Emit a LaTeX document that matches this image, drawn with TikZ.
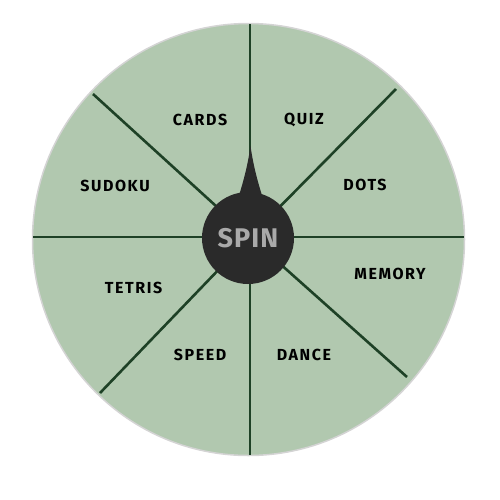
\documentclass[tikz,border=0pt]{standalone}
\usepackage{fontspec}
\newfontfamily\labfont[LetterSpace=10]{Fira Sans}
\newfontfamily\hubfont[LetterSpace=4]{Fira Sans}
\definecolor{wheelfill}{HTML}{B1C8AF}
\definecolor{wheeledge}{HTML}{D4D4D4}
\definecolor{spoke}{HTML}{1E4126}
\definecolor{hubdark}{HTML}{2A2A2A}
\definecolor{spingray}{HTML}{A9A9A9}
\tikzset{
  seglabel/.style={font=\labfont\bfseries\fontsize{16}{19}\selectfont, text=black, inner sep=0pt},
  spokeline/.style={draw=spoke, line width=2.6pt},
}
\begin{document}
\begin{tikzpicture}[x=1pt,y=-1pt]
\useasboundingbox (0,0) rectangle (500,499);
% wheel
\node[circle, draw=wheeledge, line width=1.5pt, fill=wheelfill, minimum size=432pt, inner sep=0pt] (wheel) at (248.5,239.5) {};
\coordinate (c) at (250,237);
\coordinate (eN) at (250,24);
\coordinate (eS) at (250,455);
\coordinate (eW) at (33,237);
\coordinate (eE) at (464,237);
\coordinate (eNW) at (93,94);
\coordinate (eNE) at (396,89);
\coordinate (eSE) at (407,377);
\coordinate (eSW) at (100,393);
\foreach \e in {eN,eS,eW,eE,eNW,eNE,eSE,eSW}{\draw[spokeline] (c) -- (\e);}
% pointer
\coordinate (tip) at (250.5,146);
\coordinate (bl) at (236,205);
\coordinate (br) at (265,205);
\fill[hubdark] (tip) .. controls (247,170) and (242,186) .. (bl) -- (br) .. controls (259,186) and (254,170) .. (tip) -- cycle;
% hub
\node[circle, fill=hubdark, minimum size=92pt, inner sep=0pt, text=spingray, font=\hubfont\bfseries\fontsize{27}{30}\selectfont] (hub) at (248,238) {SPIN};
% labels
\node[seglabel] (cards) at (200,120) {CARDS};
\node[seglabel] (quiz) at (304,120) {QUIZ};
\node[seglabel] (dots) at (365,185) {DOTS};
\node[seglabel] (sudoku) at (115,185.5) {SUDOKU};
\node[seglabel] (tetris) at (133.5,288) {TETRIS};
\node[seglabel] (memory) at (390,274) {MEMORY};
\node[seglabel] (speed) at (200,355) {SPEED};
\node[seglabel] (dance) at (304,355) {DANCE};
\end{tikzpicture}
\end{document}
